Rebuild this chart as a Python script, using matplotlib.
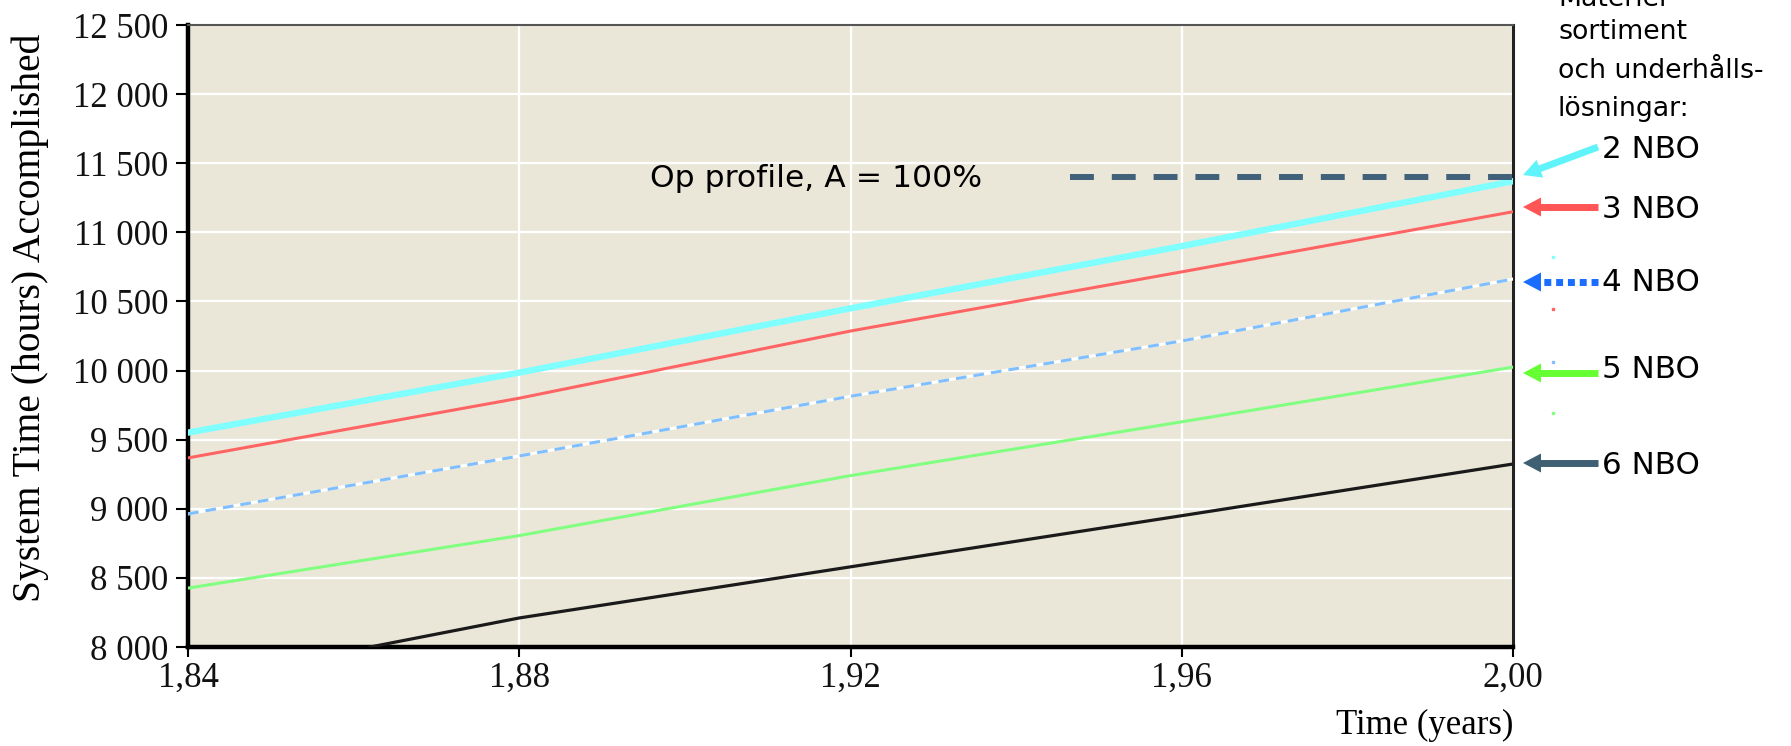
import matplotlib
matplotlib.use("Agg")
import matplotlib.pyplot as plt
from matplotlib.lines import Line2D
from matplotlib.patches import Polygon
import numpy as np

# ---------------- data ----------------
x_years = [1.84, 1.88, 1.92, 1.96, 2.00]
nbo2 = [9551, 9985, 10450, 10900, 11370]
nbo3 = [9368, 9800, 10286, 10714, 11149]
nbo4 = [8963, 9382, 9814, 10214, 10662]
nbo5 = [8426, 8806, 9240, 9629, 10025]
x_nbo6 = [1.862, 1.88, 1.92, 1.96, 2.00]
nbo6 = [8000, 8210, 8580, 8950, 9324]
op_profile_x = [1.9465, 2.00]
op_profile_y = [11400, 11400]

y_ticks = [8000, 8500, 9000, 9500, 10000, 10500, 11000, 11500, 12000, 12500]
x_ticks = [1.84, 1.88, 1.92, 1.96, 2.00]
series_labels = ["2 NBO", "3 NBO", "4 NBO", "5 NBO", "6 NBO"]
header_lines = ["Materiel", "sortiment", "och underhålls-", "lösningar:"]

# ---------------- figure ----------------
W, H = 1791, 746
fig = plt.figure(figsize=(W / 100, H / 100), dpi=100)
L, R, T, B = 188, 1513, 25, 647
ax = fig.add_axes([L / W, (H - B) / H, (R - L) / W, (B - T) / H])
ax.set_facecolor("#ebe7d8")

ax.set_xlim(1.84, 2.00)
ax.set_ylim(8000, 12500)
ax.set_xticks(x_ticks)
ax.set_yticks(y_ticks)
ax.set_xticklabels([f"{v:.2f}".replace(".", ",") for v in x_ticks])
ax.set_yticklabels([f"{v:,}".replace(",", " ") for v in y_ticks])

serif = "Liberation Serif"
for lab in ax.get_xticklabels() + ax.get_yticklabels():
    lab.set_fontfamily(serif)
    lab.set_fontsize(25)
    lab.set_color("#111111")
ax.tick_params(axis="y", direction="out", length=9, width=1.5, pad=5)
ax.tick_params(axis="x", direction="out", length=7.5, width=1.5, pad=3)

ax.grid(True, color="white", linewidth=1.6)
ax.set_axisbelow(True)

for s in ["left", "bottom"]:
    ax.spines[s].set_linewidth(3.2)
    ax.spines[s].set_color("black")
ax.spines["right"].set_linewidth(2.2)
ax.spines["right"].set_color("#222222")
ax.spines["top"].set_linewidth(1.5)
ax.spines["top"].set_color("#555555")

# series
ax.plot(x_years, nbo5, color="#80ff80", lw=2.2, zorder=3)
ax.plot(x_nbo6, nbo6, color="#1a1a1a", lw=2.3, zorder=3)
ax.plot(x_years, nbo4, color="white", lw=2.2, zorder=3)
ax.plot(x_years, nbo4, color="#80bfff", lw=2.2, dashes=(3.5, 2.3), zorder=3)
ax.plot(x_years, nbo3, color="#ff6464", lw=2.2, zorder=3)
ax.plot(x_years, nbo2, color="#80ffff", lw=4.6, zorder=4)
ax.plot(op_profile_x, op_profile_y, color="#41607a", lw=4.3, dashes=(4, 3),
        dash_capstyle="butt", zorder=4)
ax.text(1.8958, 11393, "Op profile, A = 100%", fontsize=22.6,
        family="DejaVu Sans", ha="left", va="center", color="black", zorder=5)

# axis labels
fig.text(R / W, 1 - 725 / H, "Time (years)", family=serif, fontsize=25,
         ha="right", va="center")
fig.text(30 / W, 1 - 318 / H, "System Time (hours) Accomplished", family=serif,
         fontsize=28.5, rotation=90, ha="center", va="center")

# ---------------- right-side annotation ----------------
def P(x, y):
    return (x / W, 1 - y / H)

# header text (first line is cut by the top edge, as in the original)
header_baselines = [6, 39, 78, 116]
for txt, yb in zip(header_lines, header_baselines):
    fig.text(1558 / W, 1 - yb / H, txt, family="DejaVu Sans",
             fontsize=19.3, ha="left", va="baseline")

label_y = [150, 209, 283, 369, 466]
arrow_tail = [(1598, 147), (1598, 207), (1598, 282), (1598, 373), (1598, 463)]
arrow_tip = [(1523, 175), (1523, 207), (1523, 282), (1523, 373), (1523, 463)]
arrow_colors = ["#60f4fa", "#ff5555", "#1a6dff", "#66ff33", "#3f5f73"]
arrow_styles = ["solid", "solid", "dotted", "solid", "solid"]

for lab, ly, tail, tip, col, st in zip(series_labels, label_y, arrow_tail,
                                        arrow_tip, arrow_colors, arrow_styles):
    fig.text(1602 / W, 1 - ly / H, lab, family="DejaVu Sans", fontsize=22.3,
             ha="left", va="center")
    tx, ty = tail
    px, py = tip
    d = np.array([px - tx, py - ty], dtype=float)
    d /= np.hypot(*d)
    n = np.array([-d[1], d[0]])
    hl, hw = 18, 9.5
    base = np.array([px, py]) - d * hl
    shaft_end = base + d * 1
    if st == "dotted":
        ls = (0, (1.0, 0.7))
    else:
        ls = "solid"
    fig.add_artist(Line2D([tx / W, shaft_end[0] / W],
                          [1 - ty / H, 1 - shaft_end[1] / H],
                          color=col, lw=5.0, linestyle=ls,
                          solid_capstyle="butt", dash_capstyle="butt"))
    pts = [np.array([px, py]), base + n * hw, base - n * hw]
    fig.add_artist(Polygon([P(*p) for p in pts], closed=True,
                           facecolor=col, edgecolor="none"))

# tiny leftover legend dots
dot_y = [257, 309, 362, 413]
dot_c = ["#80ffff", "#ff6464", "#80bfff", "#80ff80"]
for yy, cc in zip(dot_y, dot_c):
    fig.add_artist(Line2D([1553 / W], [1 - yy / H], marker="s", markersize=1.5,
                          color=cc, linestyle="none"))

fig.savefig("out.png", dpi=100)
